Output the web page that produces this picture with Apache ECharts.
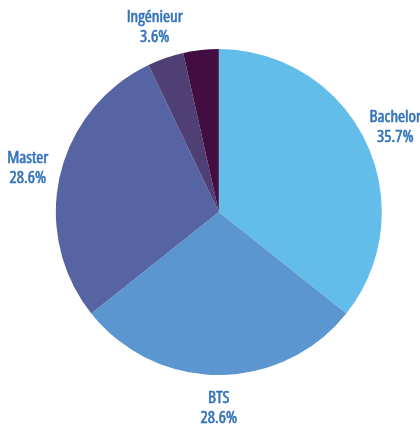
<!DOCTYPE html>
<html>
<head>
<meta charset="utf-8">
<script src="https://cdn.jsdelivr.net/npm/echarts@6/dist/echarts.min.js"></script>
<style>
  html, body { margin: 0; padding: 0; background: #ffffff; }
  #chart { width: 420px; height: 427px; }
</style>
</head>
<body>
<div id="chart"></div>
<script>
// Diplômes préparés : parts par niveau
const categories = ['Bachelor', 'BTS', 'Master', 'Ingénieur', 'Autre'];
const values = [35.7, 28.6, 28.6, 3.6, 3.5];
const showLabel = [true, true, true, true, false];
const colors = ['#62bde9', '#5b96d0', '#5764a3', '#4f3f75', '#420d41'];

const labelFont = '"Open Sans", Roboto, sans-serif';
const labelColor = '#3273bb';

const pieData = categories.map((name, i) => ({
  name: name,
  value: values[i],
  itemStyle: { color: colors[i] }
}));

// Ring of invisible sectors used only to carry centred labels around the pie
const labelData = categories.map((name, i) => ({
  name: name,
  value: values[i],
  label: { show: showLabel[i] }
}));

const center = ['52.1%', '49.65%'];

const chart = echarts.init(document.getElementById('chart'), null, { renderer: 'canvas' });
chart.setOption({
  animation: false,
  backgroundColor: '#ffffff',
  series: [
    {
      type: 'pie',
      center: center,
      radius: [0, 163],
      startAngle: 90,
      clockwise: true,
      label: { show: false },
      labelLine: { show: false },
      itemStyle: { borderWidth: 0 },
      emphasis: { disabled: true },
      data: pieData
    },
    {
      type: 'pie',
      center: center,
      radius: [178, 208],
      startAngle: 90,
      clockwise: true,
      silent: true,
      itemStyle: { color: 'rgba(0,0,0,0)', borderWidth: 0 },
      labelLine: { show: false },
      label: {
        position: 'inside',
        formatter: p => p.name + '\n' + p.value.toFixed(1) + '%',
        color: labelColor,
        fontFamily: labelFont,
        fontStyle: 'condensed',
        fontWeight: 500,
        fontSize: 17,
        lineHeight: 20,
        textBorderColor: labelColor,
        textBorderWidth: 0.6,
        align: 'center',
        verticalAlign: 'middle',
        overflow: 'none'
      },
      emphasis: { disabled: true },
      data: labelData
    }
  ]
});
</script>
</body>
</html>
